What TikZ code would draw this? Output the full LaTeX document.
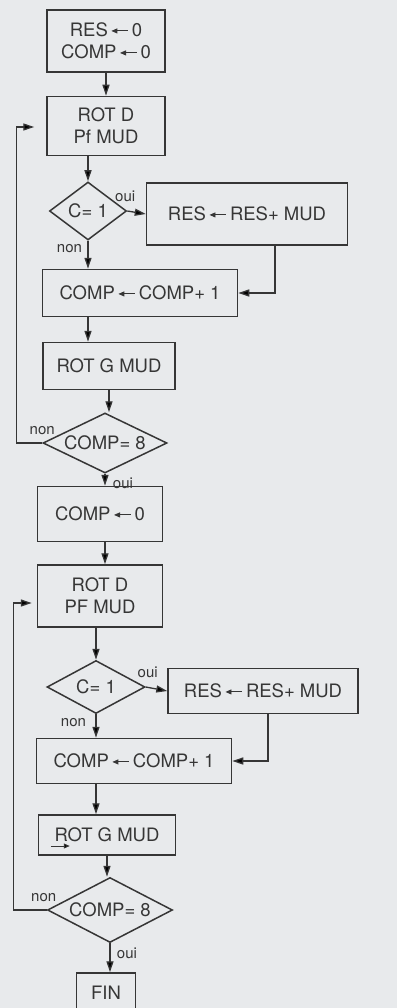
\documentclass[tikz,border=0pt]{standalone}
\usepackage{fontspec}
\setmainfont{TeX Gyre Heros}
\usepackage{xcolor}
\usetikzlibrary{arrows.meta, calc, shapes.geometric}
\definecolor{paper}{HTML}{E8EAEC}
\definecolor{ink}{HTML}{363636}
\newcommand{\assignarrow}{\,\tikz[baseline=-0.6ex, x=1pt, y=1pt]\draw[ink, line width=0.9pt, {Triangle[length=6pt, width=5pt]}-] (0,0) -- (17,0);\,}

\begin{document}
\begin{tikzpicture}[x=1pt, y=-1pt, >={Triangle[length=11pt, width=7pt]},
  every node/.style={font=\fontsize{18.5}{22}\selectfont, text=ink},
  stepbox/.style={draw=ink, line width=1.5pt, align=center, inner sep=0pt},
  testbox/.style={draw=ink, line width=1.5pt, diamond, inner sep=0pt},
  flow/.style={draw=ink, line width=1.3pt, ->},
  tag/.style={font=\fontsize{15}{16}\selectfont}]
  \fill[paper] (0,0) rectangle (397,1008);
  \useasboundingbox (0,0) rectangle (397,1008);
  % first pass
  \node[stepbox, minimum width=118, minimum height=62] (init) at (106,41) {RES\assignarrow0\\COMP\assignarrow0};
  \node[stepbox, minimum width=118, minimum height=59] (rotd1) at (106,126) {ROT D\\Pf MUD};
  \node[testbox, minimum width=77, minimum height=58, label=center:{C= 1}] (dec1) at (88,211) {};
  \node[stepbox, minimum width=201, minimum height=62] (add1) at (247,214) {RES\assignarrow RES+ MUD};
  \node[stepbox, minimum width=195, minimum height=47] (inc1) at (140,293) {COMP\assignarrow COMP+ 1};
  \node[stepbox, minimum width=132, minimum height=47] (rotg1) at (109,366) {ROT G MUD};
  \node[testbox, minimum width=124, minimum height=60, label=center:{COMP= 8}] (test1) at (105,443) {};
  % second pass
  \node[stepbox, minimum width=125, minimum height=55] (reset) at (100,514) {COMP\assignarrow0};
  \node[stepbox, minimum width=125, minimum height=62] (rotd2) at (100,596) {ROT D\\PF MUD};
  \node[testbox, minimum width=98, minimum height=53, label=center:{C= 1}] (dec2) at (96,687) {};
  \node[stepbox, minimum width=190, minimum height=45] (add2) at (263,691) {RES\assignarrow RES+ MUD};
  \node[stepbox, minimum width=195, minimum height=45] (inc2) at (134,761) {COMP\assignarrow COMP+ 1};
  \node[stepbox, minimum width=137, minimum height=40] (rotg2) at (107,835) {ROT G MUD};
  \node[testbox, minimum width=125, minimum height=65, label=center:{COMP= 8}] (test2) at (110,910) {};
  \node[stepbox, minimum width=59, minimum height=40] (fin) at (106,993) {FIN};
  \draw[draw=ink, line width=1pt, -{Triangle[length=6pt, width=5pt]}] ($(rotg2.west)+(13,11)$) -- ++(19,0);
  % connectors, first pass
  \draw[flow] (init) -- (rotd1);
  \draw[flow] (rotd1.south -| dec1.north) -- (dec1.north);
  \draw[flow] (dec1.east) -- (add1.west) node[at start, tag, above=5pt, xshift=-2pt] {oui};
  \draw[flow] (dec1.south) -- (dec1.south |- inc1.north) node[at start, tag, below left, xshift=-2pt] {non};
  \draw[flow] ($(add1.south)+(28,0)$) |- (inc1.east);
  \draw[flow] (dec1.south |- inc1.south) -- (dec1.south |- rotg1.north);
  \draw[flow] (rotg1.south) -- (rotg1.south |- test1.north);
  \draw[flow] (test1.west) -- ++(-26,0) |- ($(rotd1.west)+(-12,1)$) node[pos=0, tag, above=4pt, xshift=26pt] {non};
  \draw[flow] (test1.south) -- (test1.south |- reset.north) node[at start, tag, below right, xshift=4pt] {oui};
  % connectors, second pass
  \draw[flow] (test1.south |- reset.south) -- (test1.south |- rotd2.north);
  \draw[flow] (rotd2.south -| dec2.north) -- (dec2.north);
  \draw[flow] (dec2.east) -- (add2.west) node[at start, tag, above=5pt, xshift=2pt] {oui};
  \draw[flow] (dec2.south) -- (dec2.south |- inc2.north) node[at start, tag, below left, xshift=-6pt] {non};
  \draw[flow] ($(add2.south)+(5,0)$) |- (inc2.east);
  \draw[flow] (dec2.south |- inc2.south) -- (dec2.south |- rotg2.north);
  \draw[flow] (rotg2.south) -- (rotg2.south |- test2.north);
  \draw[flow] (test2.west) -- ++(-33,0) |- ($(rotd2.west)+(-5,7)$) node[pos=0, tag, above=4pt, xshift=30pt] {non};
  \draw[flow] (test2.south) -- (test2.south |- fin.north) node[at start, tag, below right, yshift=-1pt, xshift=3pt] {oui};
\end{tikzpicture}
\end{document}
